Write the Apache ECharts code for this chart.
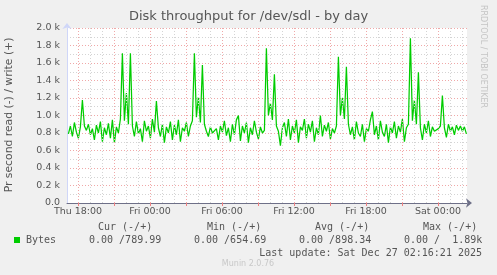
<!DOCTYPE html>
<html>
<head>
<meta charset="utf-8">
<script src="https://cdn.jsdelivr.net/npm/echarts@6/dist/echarts.min.js"></script>
<style>
html,body{margin:0;padding:0;background:#f0f0f0;}
#c{width:497px;height:275px;}
</style>
</head>
<body>
<div id="c"></div>
<script>
// ---- data (hours since Thu 00:00; one sample every 10 min) ----
const startHour = 17.2;
const stepHours = 1 / 6;
const writeBytes = [
  790, 880, 760, 920, 810, 740, 870, 1177, 880, 830, 900, 780, 850, 720, 890, 800, 930, 700, 860, 780,
  910, 740, 950, 690, 870, 800, 960, 1711, 940, 1257, 900, 1711, 880, 760,
  930, 790, 850, 700, 940, 820, 880, 740, 960, 810, 1166, 860, 760, 900, 690, 870, 800, 930, 720, 890,
  780, 950, 700, 860, 820, 920, 760, 880, 940,
  1711, 980, 1211, 920, 1577, 900, 820, 760, 870, 800, 780, 850, 720, 880, 810, 940, 770, 860,
  700, 900, 780, 950, 1000, 710, 880, 800, 920, 690, 860, 780, 940, 810, 730, 870, 800, 830,
  1768, 1000, 1143, 950, 1470, 880, 820, 655, 860, 920, 760, 960, 720, 880, 800, 950, 690, 870, 830, 960,
  740, 900, 810, 940, 700, 860, 780, 1000, 760, 890, 820, 920, 730, 850, 800, 880,
  1672, 1000, 1200, 960, 1558, 900, 780, 870, 720, 930, 800, 760, 900, 700, 850, 820, 950, 1044, 780, 880,
  720, 940, 810, 760, 900, 690, 870, 800, 930, 740, 880, 810, 960, 700, 860, 900,
  1882, 940, 1177, 900, 1494, 860, 720, 900, 800, 940, 760, 870, 820, 800, 850, 880, 1227, 860, 750, 900,
  820, 870, 780, 890, 830, 880, 820, 870, 790
];
const xAxisMin = 17 + 5 / 60;
const xAxisMax = xAxisMin + 400 / 12;
const xLabelHours = [18, 24, 30, 36, 42, 48];
const xLabelTexts = ['Thu 18:00', 'Fri 00:00', 'Fri 06:00', 'Fri 12:00', 'Fri 18:00', 'Sat 00:00'];
const xMajorGridHours = [18, 21, 24, 27, 30, 33, 36, 39, 42, 45, 48];
const xMinorGridHours = [19, 20, 22, 23, 25, 26, 28, 29, 31, 32, 34, 35, 37, 38, 40, 41, 43, 44, 46, 47, 49, 50];

const titleText = 'Disk throughput for /dev/sdl - by day';
const yAxisTitle = 'Pr second read (-) / write (+)';
const legendHeaders = ['Cur (-/+)', 'Min (-/+)', 'Avg (-/+)', 'Max (-/+)'];
const legendValues = ['0.00 /789.99', '0.00 /654.69', '0.00 /898.34', '0.00 /  1.89k'];
const lastUpdate = 'Last update: Sat Dec 27 02:16:21 2025';
const munin = 'Munin 2.0.76';
const rrdtool = 'RRDTOOL / TOBI OETIKER';

const seriesData = writeBytes.map((v, i) => [startHour + i * stepHours, v]);

const MONO = '"DejaVu Sans Mono", monospace';
const SANS = '"DejaVu Sans", sans-serif';
const FONT_COLOR = '#555';

const gridMarks = []
  .concat(xMajorGridHours.map(h => ({ xAxis: h, lineStyle: { color: '#f0a8a8', type: [1, 2], width: 1 } })))
  .concat(xMinorGridHours.map(h => ({ xAxis: h, lineStyle: { color: '#d4d4d4', type: [1, 2], width: 1 } })));

const chart = echarts.init(document.getElementById('c'), null, { renderer: 'canvas' });
const legendX = [98, 207, 315, 423];
const valueX = [89, 194, 299, 404];

const graphics = [
  { type: 'text', left: 'center', top: 10, style: { text: titleText, font: '13px ' + SANS, fill: FONT_COLOR } },
  { type: 'text', x: 4, y: 115, rotation: Math.PI / 2, style: { text: yAxisTitle, font: '10.8px ' + SANS, fill: FONT_COLOR, align: 'center', verticalAlign: 'top' } },
  { type: 'text', x: 483, y: 5, rotation: -Math.PI / 2, style: { text: rrdtool, font: '8px ' + SANS, fill: '#c4c4c4', align: 'left', verticalAlign: 'middle' } },
  { type: 'rect', shape: { x: 14, y: 237, width: 6, height: 6 }, style: { fill: '#00cc00' } },
  { type: 'text', x: 26, y: 240, style: { text: 'Bytes', font: '10px ' + MONO, fill: FONT_COLOR, verticalAlign: 'middle' } },
  { type: 'text', x: 482, y: 253, style: { text: lastUpdate, font: '10px ' + MONO, fill: FONT_COLOR, align: 'right', verticalAlign: 'middle' } },
  { type: 'text', x: 248, y: 264, style: { text: munin, font: '8px ' + SANS, fill: '#c8c8c8', align: 'center', verticalAlign: 'middle' } }
];
legendHeaders.forEach((t, i) => graphics.push({ type: 'text', x: legendX[i], y: 227, style: { text: t, font: '10px ' + MONO, fill: FONT_COLOR, verticalAlign: 'middle' } }));
legendValues.forEach((t, i) => graphics.push({ type: 'text', x: valueX[i], y: 240, style: { text: t, font: '10px ' + MONO, fill: FONT_COLOR, verticalAlign: 'middle', whiteSpace: 'pre' } }));

chart.setOption({
  backgroundColor: '#f0f0f0',
  animation: false,
  grid: { left: 67, top: 28, width: 400, height: 175, show: true, backgroundColor: '#ffffff', borderWidth: 0 },
  xAxis: {
    type: 'value', min: xAxisMin, max: xAxisMax,
    axisLine: { show: true, lineStyle: { color: '#6e7088', width: 1 }, symbol: ['none', 'arrow'], symbolSize: [7, 6], symbolOffset: [0, 5] },
    axisTick: { show: true, customValues: xMajorGridHours, length: 3, inside: false, lineStyle: { color: '#f08080' } },
    axisLabel: {
      customValues: xLabelHours, color: FONT_COLOR, fontFamily: SANS, fontSize: 9.5, margin: 4,
      formatter: v => { const k = xLabelHours.indexOf(Math.round(v)); return k >= 0 ? xLabelTexts[k] : ''; }
    },
    splitLine: { show: false }
  },
  yAxis: {
    type: 'value', min: 0, max: 2000, interval: 200,
    axisLine: { show: true, lineStyle: { color: '#cfd6f8', width: 1 }, symbol: ['none', 'arrow'], symbolSize: [7, 6], symbolOffset: [0, 5] },
    axisTick: { show: false },
    axisLabel: { color: FONT_COLOR, fontFamily: SANS, fontSize: 9.5, margin: 7, formatter: v => v === 0 ? '0.0' : (v / 1000).toFixed(1) + ' k' },
    splitLine: { show: true, lineStyle: { color: '#f0a8a8', type: [1, 2] } },
    minorTick: { show: false, splitNumber: 2 },
    minorSplitLine: { show: true, lineStyle: { color: '#d4d4d4', type: [1, 2] } }
  },
  graphic: graphics,
  series: [
    {
      type: 'line', data: [], silent: true, z: 1,
      markLine: { silent: true, symbol: 'none', label: { show: false }, animation: false, data: gridMarks }
    },
    {
      name: 'Bytes', type: 'line', data: seriesData, showSymbol: false, z: 3,
      lineStyle: { color: '#00cc00', width: 1.25 }, itemStyle: { color: '#00cc00' }
    }
  ]
});
</script>
</body>
</html>
